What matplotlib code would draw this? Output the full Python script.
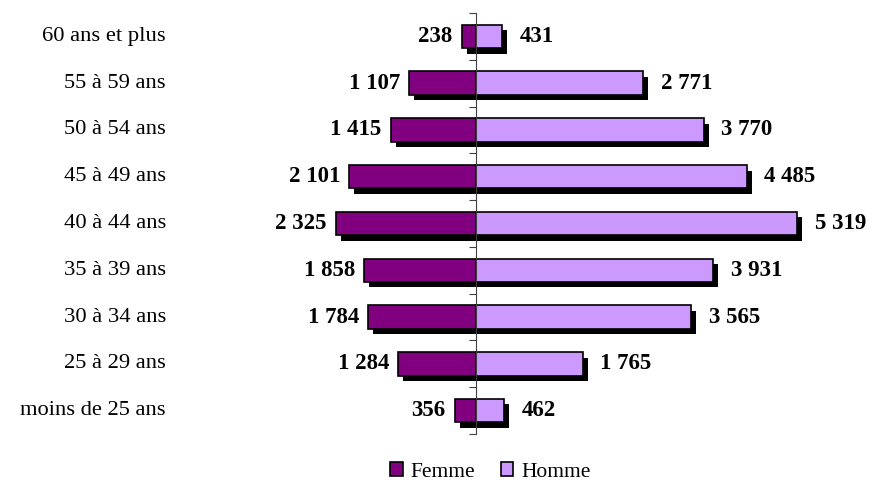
import numpy as np
import matplotlib
matplotlib.use("Agg")
import matplotlib.pyplot as plt

ages = ["60 ans et plus", "55 à 59 ans", "50 à 54 ans", "45 à 49 ans", "40 à 44 ans",
        "35 à 39 ans", "30 à 34 ans", "25 à 29 ans", "moins de 25 ans"]
femme = [238, 1107, 1415, 2101, 2325, 1858, 1784, 1284, 356]
homme = [431, 2771, 3770, 4485, 5319, 3931, 3565, 1765, 462]

plt.rcParams['font.family'] = ['Liberation Serif', 'DejaVu Serif']

fig = plt.figure(figsize=(8.72, 4.82), dpi=100)
W, H = 872, 482
# axes box in pixels: left 180, right 860, top 13, bottom 434
ax = fig.add_axes([180 / W, 1 - 434 / H, 680 / W, 421 / H])

y = np.arange(len(ages))
f = -np.array(femme)
h = np.array(homme)
bh = 0.5

xmin, xmax = -4901, 6358
ax.set_xlim(xmin, xmax)
ax.set_ylim(len(ages) - 0.5, -0.5)

# shadow offset ~5px
dx = 5 * (xmax - xmin) / 680
dy = 5.5 * len(ages) / 421
ax.barh(y + dy, f, left=dx, height=bh, color='black', zorder=1)
ax.barh(y + dy, h, left=dx, height=bh, color='black', zorder=1)

ax.barh(y, f, height=bh, color='#800080', edgecolor='black', linewidth=1.2, zorder=2, label='Femme')
ax.barh(y, h, height=bh, color='#CC99FF', edgecolor='black', linewidth=1.2, zorder=2, label='Homme')

fmt = lambda v: f"{v:,}".replace(",", " ")
for i in range(len(ages)):
    ax.annotate(fmt(femme[i]), (f[i], y[i]), xytext=(-6.5, 0), textcoords='offset points',
                ha='right', va='center', fontsize=16.5, fontweight='bold')
    ax.annotate(fmt(homme[i]), (h[i], y[i]), xytext=(12.5, 0), textcoords='offset points',
                ha='left', va='center', fontsize=16.5, fontweight='bold')
    ax.text((166 - 180) / 680, y[i], ages[i], transform=ax.get_yaxis_transform(),
            ha='right', va='center', fontsize=16.2)

for s in ['top', 'right', 'bottom']:
    ax.spines[s].set_visible(False)
ax.spines['left'].set_position(('data', 0))
ax.spines['left'].set_color('#404040')
ax.set_xticks([])
ax.set_yticks(np.arange(len(ages) + 1) - 0.5)
ax.set_yticklabels([])
ax.tick_params(axis='y', length=5, color='#404040', direction='out')

ax.legend(loc='center', bbox_to_anchor=(490 / W, 1 - 472 / H), bbox_transform=fig.transFigure,
          ncol=2, frameon=False, fontsize=15.5, handlelength=0.6, handleheight=0.6,
          handletextpad=0.35, columnspacing=1.2, borderpad=0)

fig.savefig('out.png', dpi=100)
